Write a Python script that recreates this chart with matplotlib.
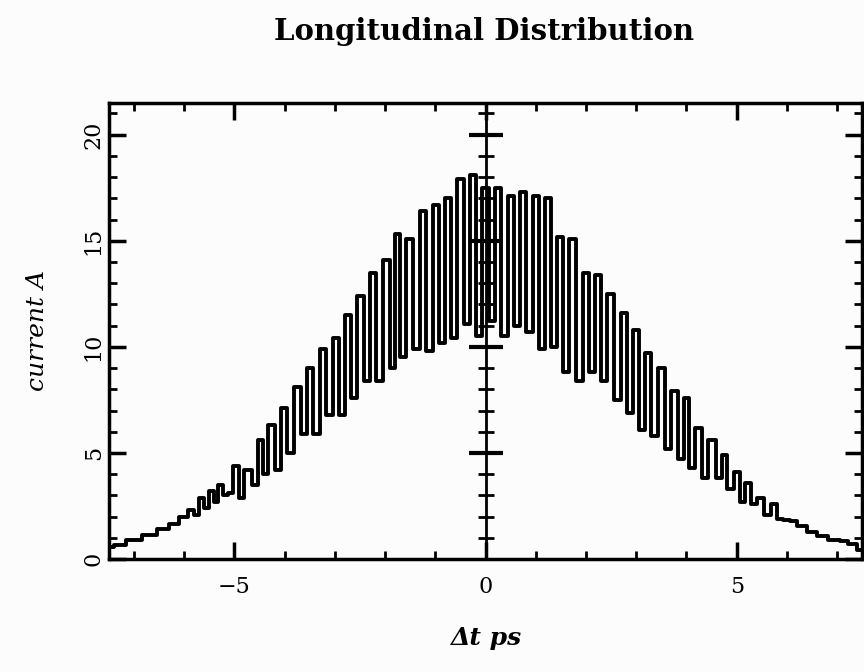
import numpy as np
import matplotlib
matplotlib.use("Agg")
import matplotlib.pyplot as plt

# Data: peaks and troughs of the bunch current
dt_ps = [-7.50, -7.30, -7.00, -6.70, -6.40, -6.20, -6.00, -5.86, -5.75, -5.65,
         -5.55, -5.45, -5.38, -5.28, -5.18, -5.08, -4.97, -4.85, -4.76, -4.68,
         -4.62, -4.46, -4.40, -4.26, -4.14, -4.00, -3.90, -3.74, -3.60, -3.50,
         -3.37, -3.22, -3.12, -2.97, -2.85, -2.75, -2.61, -2.49, -2.37, -2.25,
         -2.11, -1.97, -1.85, -1.75, -1.65, -1.51, -1.37, -1.25, -1.12, -0.98,
         -0.88, -0.74, -0.64, -0.48, -0.36, -0.26, -0.12, -0.02, 0.14, 0.24,
         0.38, 0.50, 0.64, 0.74, 0.88, 1.00, 1.12, 1.24, 1.37, 1.47,
         1.61, 1.73, 1.87, 1.99, 2.13, 2.23, 2.37, 2.47, 2.63, 2.75,
         2.89, 2.99, 3.13, 3.23, 3.37, 3.50, 3.63, 3.75, 3.90, 4.00,
         4.10, 4.24, 4.36, 4.50, 4.66, 4.74, 4.86, 5.02, 5.10, 5.22,
         5.36, 5.46, 5.62, 5.74, 5.85, 6.00, 6.12, 6.30, 6.50, 6.70,
         6.95, 7.15, 7.30, 7.50]
current_A = [0.55, 0.65, 0.90, 1.15, 1.40, 1.65, 2.00, 2.30, 2.10, 2.90,
             2.40, 3.20, 2.70, 3.50, 3.00, 3.10, 4.40, 2.90, 4.20, 4.20,
             3.50, 5.60, 4.00, 6.30, 4.20, 7.10, 5.00, 8.10, 5.90, 9.00,
             5.90, 9.90, 6.80, 10.40, 6.80, 11.50, 7.60, 12.40, 8.40, 13.50,
             8.40, 14.10, 9.00, 15.30, 9.50, 15.10, 9.90, 16.40, 9.80, 16.70,
             10.20, 17.00, 10.40, 17.90, 11.10, 18.10, 10.50, 17.50, 11.20, 17.50,
             10.50, 17.10, 11.00, 17.30, 10.70, 17.10, 9.90, 17.00, 10.00, 15.20,
             8.80, 15.10, 8.40, 13.50, 8.80, 13.40, 8.40, 12.50, 7.50, 11.60,
             6.90, 10.80, 6.10, 9.70, 5.80, 9.00, 5.20, 7.90, 4.70, 7.60,
             4.30, 6.20, 3.80, 5.60, 3.80, 4.90, 3.30, 4.10, 2.70, 3.60,
             2.60, 2.90, 2.10, 2.60, 1.90, 1.85, 1.80, 1.55, 1.30, 1.10,
             0.90, 0.85, 0.70, 0.45]

x_major = [-5, 0, 5]
y_major = [0, 5, 10, 15, 20]

plt.rcParams['font.family'] = ['DejaVu Serif']

fig = plt.figure(figsize=(8.64, 6.72), dpi=100)
fig.patch.set_facecolor('#fcfcfc')
ax = fig.add_axes([0.126, 0.168, 0.872, 0.679])
ax.set_facecolor('#fcfcfc')

ax.plot(dt_ps, current_A, color='black', linewidth=2.8, drawstyle='steps-mid')

ax.set_xlim(-7.5, 7.5)
ax.set_ylim(0, 21.5)

# Frame and ticks, inward on all sides
for s in ax.spines.values():
    s.set_linewidth(2.5)
ax.set_xticks(x_major)
ax.set_xticks(np.arange(-7, 8, 1), minor=True)
ax.set_yticks(y_major)
ax.set_yticks(np.arange(0, 22, 1), minor=True)
ax.set_xticklabels(['\u22125', '0', '5'])
ax.tick_params(which='both', direction='in', top=True, right=True, color='black')
ax.tick_params(which='major', length=12, width=2.5, labelsize=16)
ax.tick_params(axis='x', which='major', pad=12)
ax.tick_params(axis='y', which='major', pad=3)
ax.tick_params(which='minor', length=6, width=2)
for lab in ax.get_yticklabels():
    lab.set_rotation(90)
    lab.set_va('center')

# Vertical axis through zero with crossing ticks
ax.axvline(0, color='black', linewidth=2)
ax.plot([0] * 22, np.arange(0, 22, 1), linestyle='none', marker='_',
        markersize=12, markeredgewidth=2, color='black')
ax.plot([0] * 4, y_major[1:], linestyle='none', marker='_',
        markersize=24, markeredgewidth=3, color='black')

ax.set_xlabel('\u0394t ps', fontsize=18, fontweight='bold', style='italic', labelpad=20)
ax.set_ylabel('current A', fontsize=18, style='italic', labelpad=24)
fig.suptitle('Longitudinal Distribution', fontsize=21, fontweight='bold', x=0.56, y=0.975)

plt.savefig('out.png', dpi=100, facecolor=fig.get_facecolor())
